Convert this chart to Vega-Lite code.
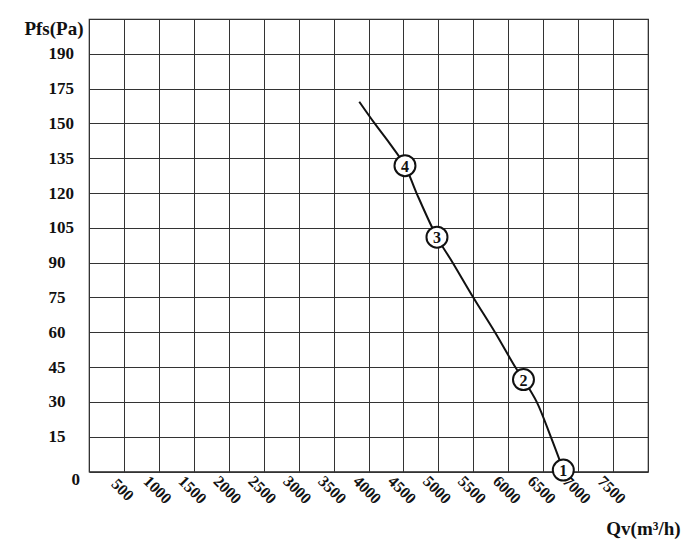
{
  "$schema": "https://vega.github.io/schema/vega-lite/v6.json",
  "autosize": "none",
  "padding": {"left": 89, "top": 19, "right": 52, "bottom": 74.5},
  "width": 559,
  "height": 452.5,
  "background": "white",
  "config": {
    "view": {"stroke": "#222", "strokeWidth": 1.2},
    "axis": {
      "labelFont": "Liberation Serif",
      "labelFontWeight": "bold",
      "labelFontSize": 17,
      "labelColor": "#111",
      "titleFont": "Liberation Serif",
      "titleFontWeight": "bold",
      "titleFontSize": 19,
      "titleColor": "#111",
      "gridColor": "#333",
      "gridOpacity": 1,
      "gridWidth": 1,
      "domain": false,
      "ticks": false,
      "tickSize": 0
    }
  },
  "datasets": {
    "curve": [
      {"qv": 3868, "pfs": 165.6},
      {"qv": 4088, "pfs": 150},
      {"qv": 4300, "pfs": 141.5},
      {"qv": 4522, "pfs": 131.8},
      {"qv": 4687, "pfs": 120},
      {"qv": 4980, "pfs": 101},
      {"qv": 5205, "pfs": 90},
      {"qv": 5500, "pfs": 75},
      {"qv": 5810, "pfs": 60},
      {"qv": 6100, "pfs": 45},
      {"qv": 6218, "pfs": 39.6},
      {"qv": 6407, "pfs": 30},
      {"qv": 6608, "pfs": 15},
      {"qv": 6788, "pfs": 0.6}
    ],
    "marks": [
      {"qv": 6788, "pfs": 0.6, "label": "1"},
      {"qv": 6218, "pfs": 39.6, "label": "2"},
      {"qv": 4980, "pfs": 101, "label": "3"},
      {"qv": 4522, "pfs": 131.8, "label": "4"}
    ]
  },
  "encoding": {
    "x": {
      "field": "qv",
      "type": "quantitative",
      "scale": {"domain": [0, 8000], "nice": false, "zero": false},
      "axis": {
        "values": [0, 500, 1000, 1500, 2000, 2500, 3000, 3500, 4000, 4500, 5000, 5500, 6000, 6500, 7000, 7500, 8000],
        "labelExpr": "datum.value == 0 || datum.value == 8000 ? '' : datum.label",
        "labelAngle": 45,
        "labelAlign": "center",
        "labelBaseline": "middle",
        "labelPadding": 18,
        "labelOffset": -2,
        "labelFontSize": 16,
        "format": "d",
        "labelOverlap": false,
        "title": "Qv(m³/h)",
        "titleX": 554,
        "titleY": 57,
        "titleAlign": "center",
        "titleBaseline": "middle"
      }
    },
    "y": {
      "field": "pfs",
      "type": "quantitative",
      "scale": {"domain": [0, 150, 175, 190, 205], "range": [452.5, 104.42, 69.62, 34.81, 0], "nice": false, "zero": false},
      "axis": {
        "values": [0, 15, 30, 45, 60, 75, 90, 105, 120, 135, 150, 175, 190, 205],
        "labelExpr": "datum.value == 205 ? '' : datum.label",
        "labelAlign": "left",
        "labelBaseline": "middle",
        "labelPadding": {"condition": {"test": "datum.value === 0", "value": 18}, "value": 41},
        "labelOffset": {"condition": {"test": "datum.value === 0", "value": 8}, "value": 0},
        "labelOverlap": false,
        "format": "d",
        "title": "Pfs(Pa)",
        "titleAngle": 0,
        "titleX": -6,
        "titleY": 9,
        "titleAlign": "right",
        "titleBaseline": "middle"
      }
    }
  },
  "layer": [
    {
      "data": {"name": "curve"},
      "mark": {"type": "line", "color": "#111", "strokeWidth": 2, "interpolate": "catmull-rom"}
    },
    {
      "data": {"name": "marks"},
      "mark": {"type": "point", "shape": "circle", "filled": true, "fill": "white", "stroke": "#111", "strokeWidth": 2, "size": 441, "opacity": 1}
    },
    {
      "data": {"name": "marks"},
      "mark": {"type": "text", "font": "Liberation Serif", "fontSize": 16, "fontWeight": "bold", "color": "#111", "dy": 1},
      "encoding": {"text": {"field": "label"}}
    }
  ]
}
